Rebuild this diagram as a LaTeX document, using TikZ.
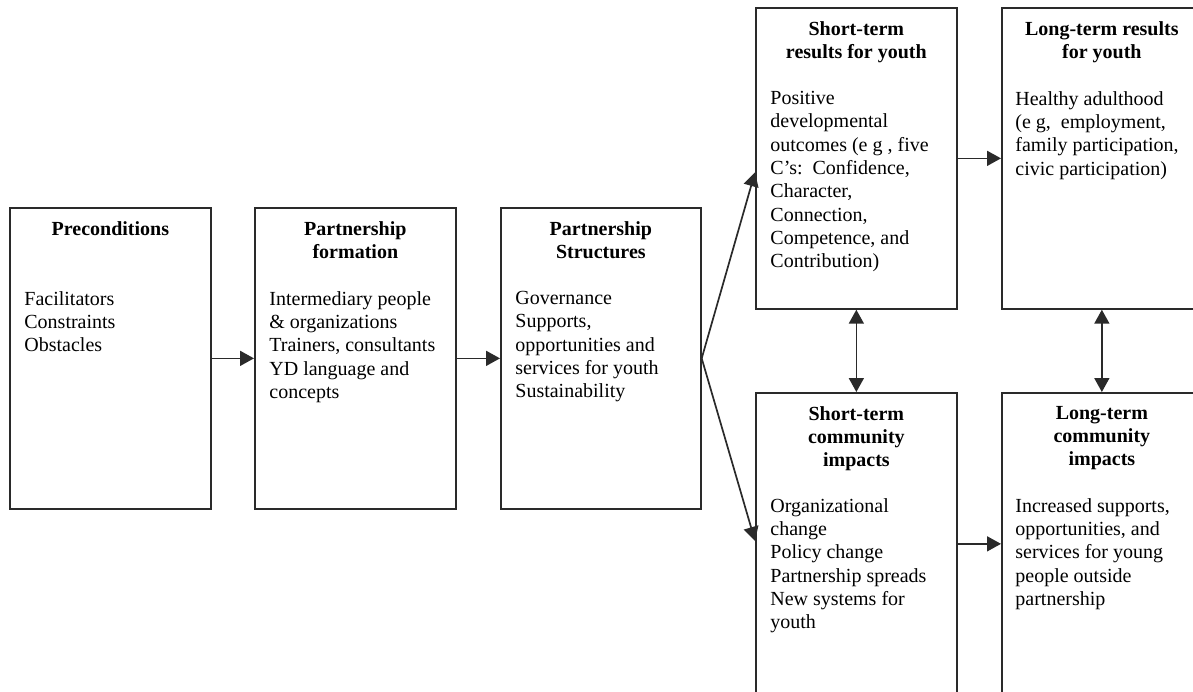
\documentclass[tikz,border=0pt]{standalone}
\usepackage{fontspec}
\setmainfont{Liberation Serif}
\usetikzlibrary{positioning}
\usetikzlibrary{arrows.meta}
\definecolor{linegray}{HTML}{2A2A2A}
\tikzset{
	box/.style={draw=linegray, line width=0.85pt, anchor=north west, inner sep=0pt},
	head/.style={inner sep=0pt, align=center, font=\fontsize{10}{11.5}\selectfont\bfseries},
	body/.style={inner sep=0pt, align=left, font=\fontsize{10}{11.65}\selectfont},
	arr/.style={draw=linegray, line width=0.85pt, -{Triangle[length=7pt,width=7.5pt]}},
	dblarr/.style={draw=linegray, line width=0.85pt, {Triangle[length=7pt,width=7.5pt]}-{Triangle[length=7pt,width=7.5pt]}}
}

\begin{document}
\begin{tikzpicture}[x=0.5pt, y=-0.5pt]
	% page 1193 x 691 px, 1px = 0.5pt
	\useasboundingbox (0,0) rectangle (1193,691);
	\clip (0,0) rectangle (1193,691);
	% left row of boxes
	\node[box, minimum width=100.5pt, minimum height=150.5pt] (pre) at (9,207) {};
	\node[box, minimum width=100.5pt, minimum height=150.5pt] (form) at (254,207) {};
	\node[box, minimum width=100pt, minimum height=150.5pt] (struct) at (500,207) {};
	% results and impacts (cut off at the page edge)
	\node[box, minimum width=100.5pt, minimum height=150.5pt] (sty) at (755,7) {};
	\node[box, minimum width=100pt, minimum height=150.5pt] (lty) at (1001,7) {};
	\node[box, minimum width=100.5pt, minimum height=151pt] (stc) at (755,392) {};
	\node[box, minimum width=100pt, minimum height=151pt] (ltc) at (1001,392) {};

	% titles
	\node[head, below=7pt of pre.north] (preT) {Preconditions};
	\node[head, below=7pt of form.north] (formT) {Partnership\\formation};
	\node[head, below=7pt of struct.north] (structT) {Partnership\\Structures};
	\node[head, below=7pt of sty.north] (styT) {Short-term\\results for youth};
	\node[head, below=7pt of lty.north] (ltyT) {Long-term results\\for youth};
	\node[head, below=7pt of stc.north] (stcT) {Short-term\\community\\impacts};
	\node[head, below=7pt of ltc.north] (ltcT) {Long-term\\community\\impacts};

	% contents
	\node[body, below right=42pt and 7.5pt of pre.north west] (preB)
		{Facilitators\\Constraints\\Obstacles};
	\node[body, below right=42pt and 7.5pt of form.north west] (formB)
		{Intermediary people\\\& organizations\\Trainers, consultants\\YD language and\\concepts};
	\node[body, below right=42pt and 7.5pt of struct.north west] (structB)
		{Governance\\Supports,\\opportunities and\\services for youth\\Sustainability};
	\node[body, below right=42pt and 7.5pt of sty.north west] (styB)
		{Positive\\developmental\\outcomes (e g , five\\C’s:\ \ Confidence,\\Character,\\Connection,\\Competence, and\\Contribution)};
	\node[body, below right=42pt and 7pt of lty.north west] (ltyB)
		{Healthy adulthood\\(e g,\ \ employment,\\family participation,\\civic participation)};
	\node[body, below right=53pt and 7.5pt of stc.north west] (stcB)
		{Organizational\\change\\Policy change\\Partnership spreads\\New systems for\\youth};
	\node[body, below right=53pt and 7pt of ltc.north west] (ltcB)
		{Increased supports,\\opportunities, and\\services for young\\people outside\\partnership};

	% arrows
	\draw[arr] (pre) -- (form);
	\draw[arr] (form) -- (struct);
	\draw[arr] (struct.east) -- ([yshift=-7pt]sty.west);
	\draw[arr] (struct.east) -- ([yshift=1.5pt]stc.west);
	\draw[arr] (sty) -- (lty);
	\draw[arr] (stc) -- (ltc);
	\draw[dblarr] (sty) -- (stc);
	\draw[dblarr] (lty) -- (ltc);
\end{tikzpicture}
\end{document}
